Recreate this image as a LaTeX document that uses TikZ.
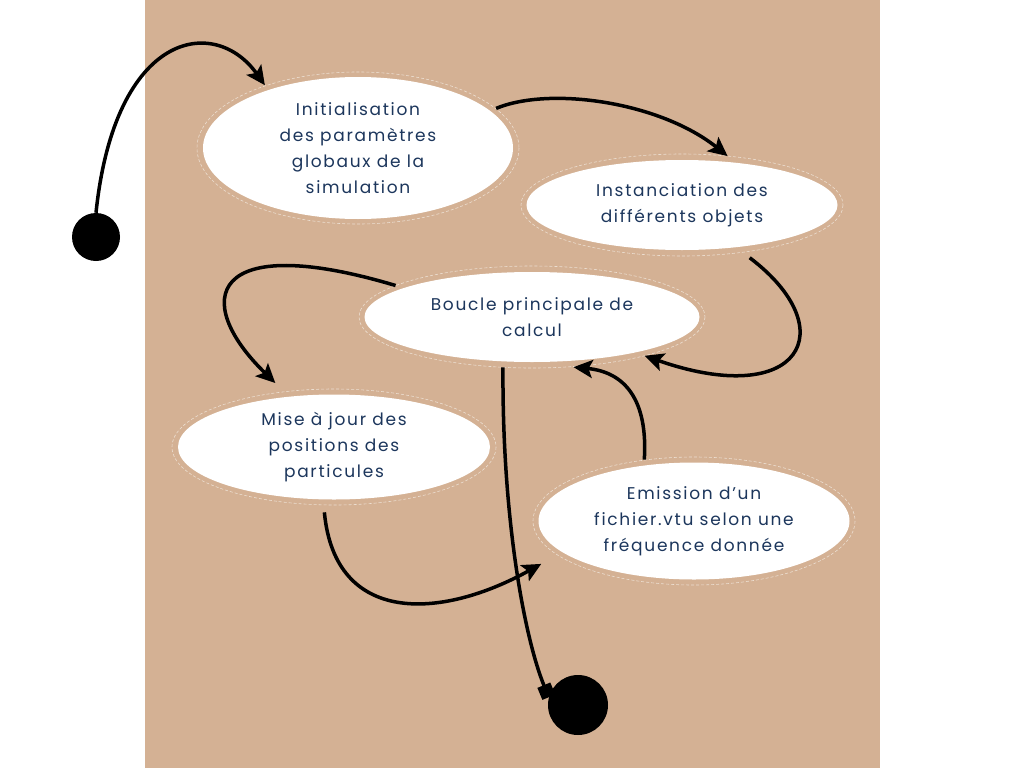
\documentclass[tikz,border=0pt]{standalone}
\usepackage{fontspec}
\setmainfont{Poppins}[LetterSpace=10]
\usepackage{tikz}
\usetikzlibrary{shapes.geometric,arrows.meta}

\definecolor{sand}{RGB}{212,177,148}
\definecolor{ringcol}{RGB}{236,222,208}
\definecolor{navy}{RGB}{28,54,92}

\tikzset{
  bubble/.style={ellipse, fill=white, inner sep=0pt, outer sep=6pt, align=center, text=navy,
    font=\fontsize{17}{26}\selectfont},
  ring/.style={draw=ringcol, dash pattern=on 3pt off 2pt, line width=0.6pt},
  flow/.style={line width=3.5pt, -{Stealth[length=19pt,width=18pt,inset=4pt]}},
  dot/.style={circle, fill=black, inner sep=0pt}
}

\begin{document}
\begin{tikzpicture}[x=1pt, y=-1pt]
  \useasboundingbox (0,0) rectangle (1024,768);
  \fill[white] (0,0) rectangle (1024,768);
  \fill[sand] (145,0) rectangle (880,768);

  % the five steps
  \node at (358,148) [bubble, minimum width=310pt, minimum height=142pt] (init) {Initialisation\\des paramètres\\globaux de la\\simulation};
  \node at (682,205) [bubble, minimum width=311pt, minimum height=90pt] (objets) {Instanciation des\\différents objets};
  \node at (532,317) [bubble, minimum width=335pt, minimum height=90pt] (boucle) {Boucle principale de\\calcul};
  \node at (334,447) [bubble, minimum width=312pt, minimum height=105pt] (positions) {Mise à jour des\\positions des\\particules};
  \node at (694,521) [bubble, minimum width=311pt, minimum height=117pt] (emission) {Emission d’un\\fichier.vtu selon une\\fréquence donnée};
  % thin dashed rings round them
  \foreach \n/\rx/\ry in {init/161/76, objets/161/51, boucle/173/51, positions/162/58, emission/161/64}
    \draw[ring] (\n.center) ellipse [x radius=\rx, y radius=\ry];

  % start and end
  \node at (96,237) [dot, minimum size=48pt] (start) {};
  \node at (578,705) [dot, minimum size=60pt] (stop) {};

  \draw[flow] (start.north) .. controls (115,30) and (215,15) .. (init.146);
  \draw[flow] (init.16) .. controls (550,86) and (660,102) .. (objets.47);
  \draw[flow, shorten <=9pt] (objets.-38) .. controls (845,330) and (800,410) .. (boucle.-19);
  \draw[flow, shorten >=12pt] (boucle.167) .. controls (210,230) and (190,300) .. (positions.132);
  \draw[flow, shorten <=7pt, shorten >=18pt] (positions.-100) .. controls (335,625) and (440,620) .. (emission.194);
  \draw[flow, shorten >=4pt] (emission.129) .. controls (648,400) and (625,372) .. (boucle.-53);
  \draw[line width=3.5pt, -{Square[length=13pt,width=14pt]}] (boucle.-120) .. controls (502,520) and (525,640) .. (stop.165);
\end{tikzpicture}
\end{document}
